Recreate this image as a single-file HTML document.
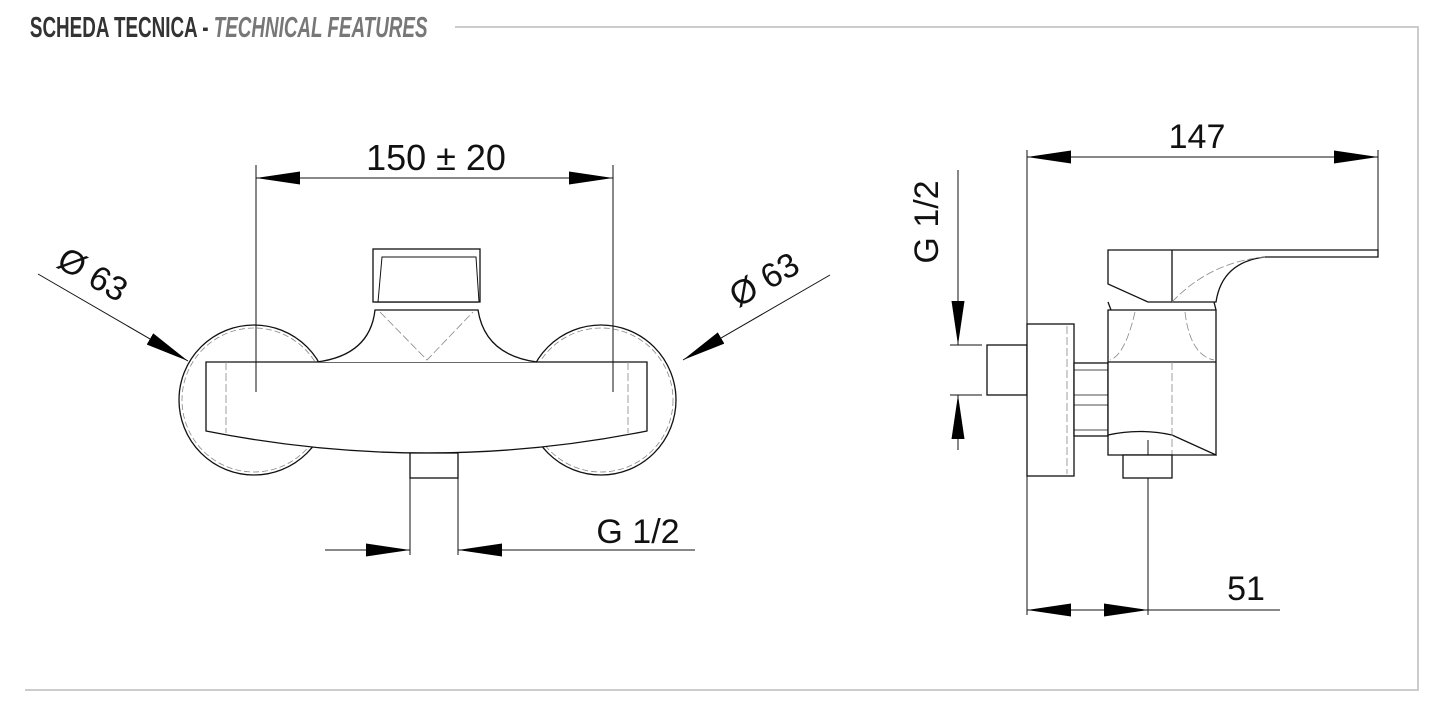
<!DOCTYPE html>
<html><head><meta charset="utf-8"><style>
html,body{margin:0;padding:0;background:#fff;}
svg{display:block;}
.t{font-family:"Liberation Sans",sans-serif;fill:#111;}
</style></head><body>
<svg width="1450" height="718" viewBox="0 0 1450 718" xmlns="http://www.w3.org/2000/svg">
<defs>
<marker id="a" viewBox="0 0 10 10" refX="10" refY="5" markerWidth="44" markerHeight="13" preserveAspectRatio="none" markerUnits="userSpaceOnUse" orient="auto-start-reverse"><path d="M0,0 L10,5 L0,10 Z" fill="#000"/></marker>
</defs>
<!-- header -->
<text x="46" y="37" font-family="Liberation Sans, sans-serif" font-weight="bold" font-size="29" fill="#333" transform="scale(0.65,1)">SCHEDA TECNICA - <tspan fill="#777" font-style="italic">TECHNICAL FEATURES</tspan></text>
<path d="M455 27 H1418 V690 H25" fill="none" stroke="#ccc" stroke-width="2"/>

<g fill="none" stroke="#111" stroke-width="1.3">
<!-- LEFT VIEW -->
<circle cx="254" cy="400" r="75"/>
<circle cx="254" cy="400" r="72" stroke="#888" stroke-dasharray="6 3" stroke-width="0.8"/>
<circle cx="601" cy="400" r="75"/>
<circle cx="601" cy="400" r="72" stroke="#888" stroke-dasharray="6 3" stroke-width="0.8"/>
<path d="M206 362 H647 V431 Q427 475 206 431 Z" fill="#fff"/>
<line x1="226" y1="362" x2="226" y2="433" stroke="#888" stroke-dasharray="8 3" stroke-width="0.8"/>
<line x1="628" y1="362" x2="628" y2="433" stroke="#888" stroke-dasharray="8 3" stroke-width="0.8"/>
<path d="M317 362 Q370 355 375 310 H478 Q485 355 537 362" fill="#fff"/>
<path d="M380 312 L427 360 L473 312" stroke="#888" stroke-dasharray="8 3" stroke-width="0.8"/>
<line x1="375" y1="302" x2="478" y2="302"/>
<rect x="373" y="249" width="107" height="53" fill="#fff"/>
<path d="M378 302 L382 257 H476 L479 302" stroke-width="1"/>
<rect x="410" y="453" width="48" height="25" fill="#fff"/>
<line x1="410" y1="478" x2="410" y2="555" stroke-width="1"/>
<line x1="458" y1="478" x2="458" y2="555" stroke-width="1"/>
<!-- dims -->
<line x1="256" y1="165" x2="256" y2="392" stroke-width="1"/>
<line x1="613" y1="165" x2="613" y2="392" stroke-width="1"/>
<line x1="256" y1="178" x2="613" y2="178" stroke-width="1" marker-start="url(#a)" marker-end="url(#a)"/>
<line x1="325" y1="550" x2="410" y2="550" stroke-width="1" marker-end="url(#a)"/>
<line x1="695" y1="550" x2="458" y2="550" stroke-width="1" marker-end="url(#a)"/>
<line x1="38" y1="274" x2="188" y2="361" stroke-width="1" marker-end="url(#a)"/>
<line x1="830" y1="275" x2="683" y2="360" stroke-width="1" marker-end="url(#a)"/>

<!-- RIGHT VIEW -->
<line x1="1027" y1="150" x2="1027" y2="615" stroke-width="1"/>
<line x1="1378" y1="150" x2="1378" y2="250" stroke-width="1"/>
<line x1="1027" y1="157" x2="1378" y2="157" stroke-width="1" marker-start="url(#a)" marker-end="url(#a)"/>
<line x1="1027" y1="610" x2="1280" y2="610" stroke-width="1"/>
<line x1="1027" y1="610" x2="1148" y2="610" stroke-width="1" marker-start="url(#a)" marker-end="url(#a)"/>
<line x1="1148" y1="440" x2="1148" y2="615" stroke-width="1"/>
<line x1="958" y1="170" x2="958" y2="345" stroke-width="1" marker-end="url(#a)"/>
<line x1="958" y1="450" x2="958" y2="395" stroke-width="1" marker-end="url(#a)"/>
<line x1="950" y1="345" x2="982" y2="345" stroke-width="1"/>
<line x1="950" y1="395" x2="982" y2="395" stroke-width="1"/>
<rect x="987" y="345" width="40" height="50" fill="#fff"/>
<rect x="1027" y="324" width="47" height="152" fill="#fff"/>
<line x1="1067" y1="326" x2="1067" y2="474" stroke="#888" stroke-dasharray="8 3" stroke-width="0.8"/>
<rect x="1074" y="363" width="34" height="73" fill="#fff"/>
<line x1="1074" y1="370" x2="1108" y2="370" stroke-width="0.8"/>
<line x1="1074" y1="395" x2="1108" y2="395" stroke-width="0.8"/>
<line x1="1074" y1="405" x2="1108" y2="405" stroke-width="0.8"/>
<line x1="1074" y1="430" x2="1108" y2="430" stroke-width="0.8"/>
<path d="M1108 310 H1216 V455 L1172 435 Q1140 428 1108 435 Z" fill="#fff"/>
<path d="M1108 435 V455 H1216" />
<line x1="1108" y1="362" x2="1216" y2="362"/>
<path d="M1135 312 Q1125 355 1110 360 M1185 312 Q1190 355 1214 360" stroke="#888" stroke-dasharray="8 3" stroke-width="0.8"/>
<line x1="1172" y1="362" x2="1172" y2="455" stroke="#888" stroke-dasharray="8 3" stroke-width="0.8"/>
<rect x="1123" y="455" width="49" height="23" fill="#fff"/>
<path d="M1108 250 H1378 V257 H1265 Q1222 262 1216 302 H1148 L1108 284 Z" fill="#fff"/>
<line x1="1172" y1="250" x2="1172" y2="302"/>
<path d="M1108 302 L1111 310 M1214 302 L1216 310"/>
<path d="M1172 302 Q1210 262 1265 257" stroke="#888" stroke-dasharray="8 3" stroke-width="0.8"/>
</g>

<!-- labels -->
<text class="t" x="436" y="170" font-size="36" text-anchor="middle">150 ± 20</text>
<text class="t" x="638" y="543" font-size="34" text-anchor="middle">G 1/2</text>
<text class="t" x="0" y="0" font-size="34" transform="translate(55,266) rotate(30)">Ø 63</text>
<text class="t" x="0" y="0" font-size="34" transform="translate(738,308) rotate(-30)">Ø 63</text>
<text class="t" x="1197" y="148" font-size="34" text-anchor="middle">147</text>
<text class="t" x="1246" y="600" font-size="34" text-anchor="middle">51</text>
<text class="t" x="0" y="0" font-size="34" text-anchor="middle" transform="translate(938,222) rotate(-90)">G 1/2</text>
</svg>
</body></html>
